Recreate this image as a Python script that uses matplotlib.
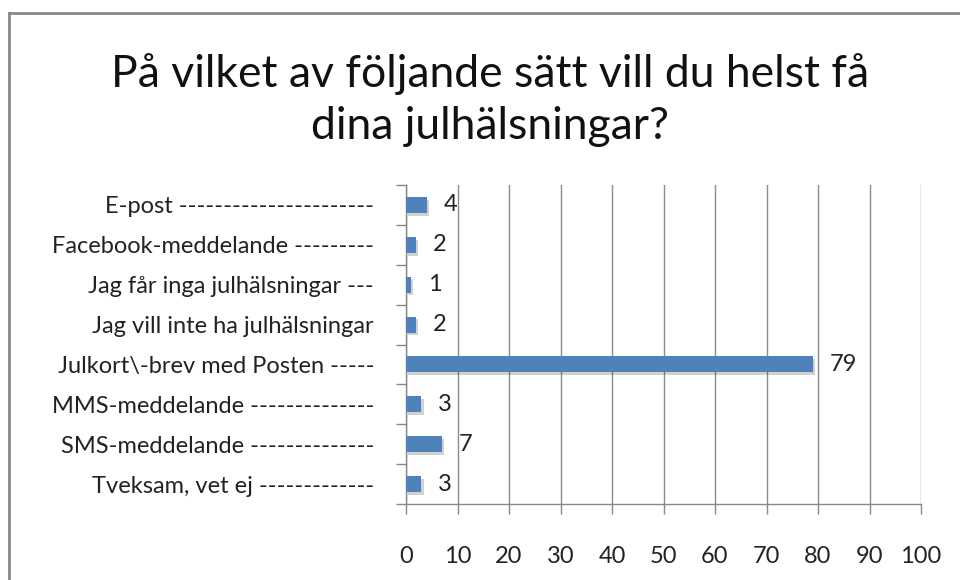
import matplotlib
matplotlib.use("Agg")
import matplotlib.pyplot as plt
import matplotlib.patheffects as pe
from matplotlib.lines import Line2D
import numpy as np

plt.rcParams['font.family'] = ['Lato', 'DejaVu Sans']

title = "På vilket av följande sätt vill du helst få\ndina julhälsningar?"
categories = [
    "E-post ----------------------",
    "Facebook-meddelande ---------",
    "Jag får inga julhälsningar ---",
    "Jag vill inte ha julhälsningar",
    "Julkort\\-brev med Posten -----",
    "MMS-meddelande --------------",
    "SMS-meddelande --------------",
    "Tveksam, vet ej -------------",
]
values = [4, 2, 1, 2, 79, 3, 7, 3]
xticks = [0, 10, 20, 30, 40, 50, 60, 70, 80, 90, 100]

W, H = 960, 580
fig = plt.figure(figsize=(W / 100, H / 100), dpi=100)
ax = fig.add_axes([406 / W, 1 - 504 / H, (921 - 406) / W, (504 - 185) / H])

y = np.arange(len(categories))
bars = ax.barh(y, values, height=0.4, color='#4F81BD', zorder=3)
for b in bars:
    b.set_path_effects([pe.SimplePatchShadow(offset=(1.5, -2), shadow_rgbFace='#000000', alpha=0.18),
                        pe.Normal()])

ax.set_ylim(len(categories) - 0.5, -0.5)
ax.set_xlim(0, 100)
ax.set_xticks(xticks)
ax.set_xticklabels([str(v) for v in xticks], fontsize=17, color='#222222')
ax.set_yticks(y)
ax.set_yticklabels(categories, fontsize=17, color='#222222')
ax.set_yticks(np.arange(len(categories) + 1) - 0.5, minor=True)
ax.tick_params(axis='y', which='major', length=0, pad=23)
ax.tick_params(axis='y', which='minor', length=7, color='#888888', width=1)
ax.tick_params(axis='x', which='major', length=7, color='#888888', width=1, pad=23)

ax.grid(axis='x', color='#8c8c8c', linewidth=1, zorder=0)
for s in ['top', 'right']:
    ax.spines[s].set_visible(False)
for s in ['left', 'bottom']:
    ax.spines[s].set_color('#888888')
    ax.spines[s].set_linewidth(1)

for yi, v in zip(y, values):
    ax.annotate(str(v), xy=(v, yi), xytext=(12, 0), textcoords='offset points',
                va='center', ha='left', fontsize=17, color='#222222')

fig.text(490 / W, 1 - 100 / H, title, ha='center', va='center', fontsize=32,
         color='#111111', linespacing=1.35)

fig.add_artist(Line2D([9 / W, 1.0], [1 - 13 / H, 1 - 13 / H], color='#888888', linewidth=2,
                      transform=fig.transFigure))
fig.add_artist(Line2D([9 / W, 9 / W], [1 - 13 / H, 0.0], color='#888888', linewidth=2,
                      transform=fig.transFigure))

fig.savefig("out.png", dpi=100)
